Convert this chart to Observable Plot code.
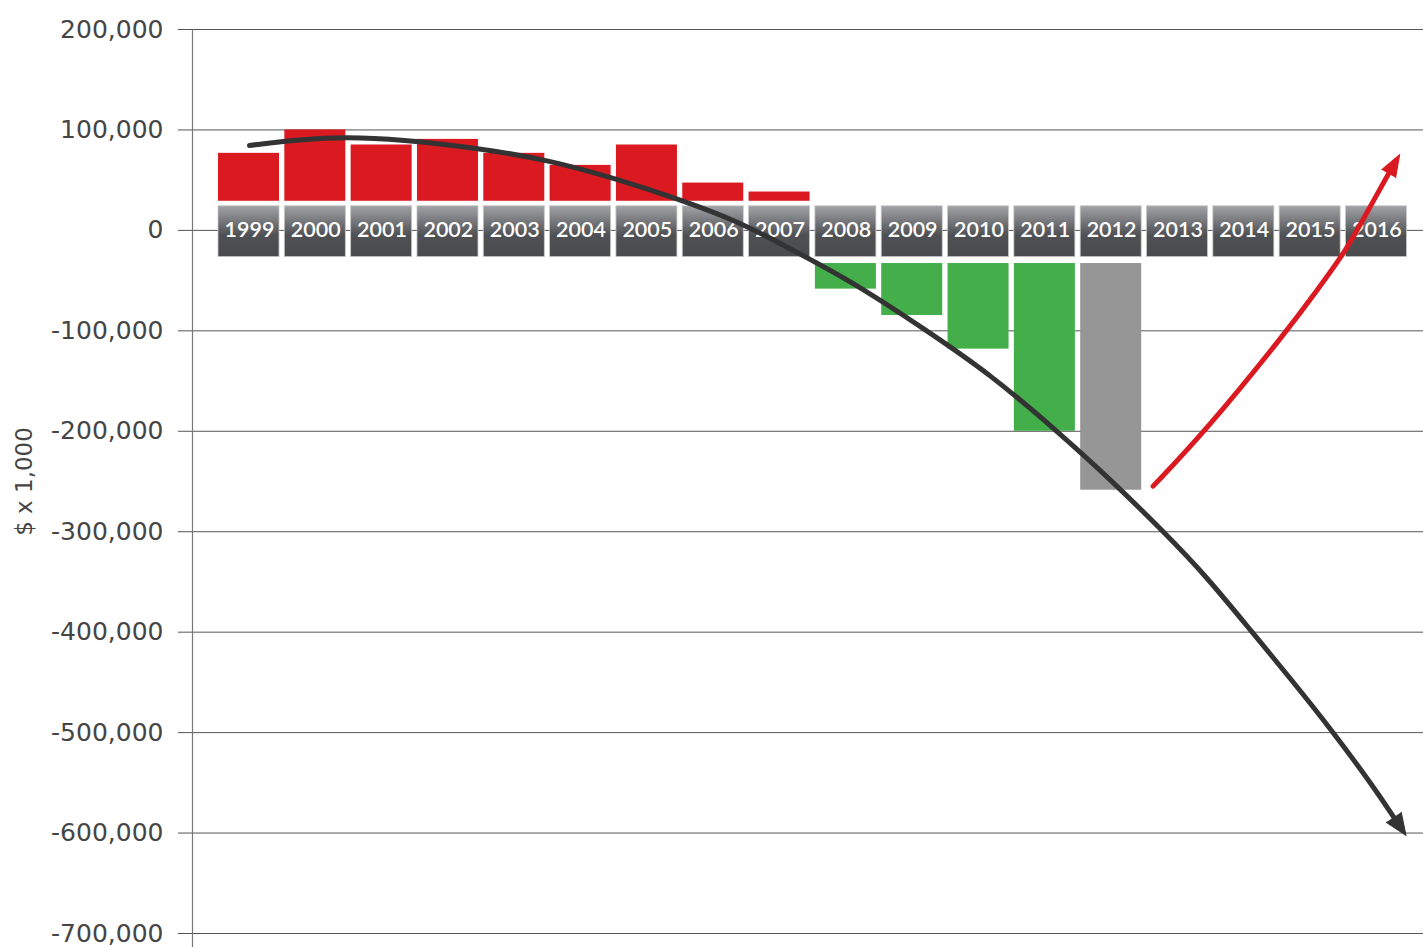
<!DOCTYPE html>
<html><head><meta charset="utf-8">
<script src="https://cdn.jsdelivr.net/npm/d3@7"></script>
<script src="https://cdn.jsdelivr.net/npm/@observablehq/plot@0.6"></script>
<style>body{margin:0;background:#fff}svg{display:block}</style>
</head><body><div id="chart"></div>
<script>
// ---- data ----
const years = [1999,2000,2001,2002,2003,2004,2005,2006,2007,2008,2009,2010,2011,2012,2013,2014,2015,2016];
const values = [76700,100000,85000,90600,76700,64700,85000,47100,38200,-58500,-84700,-118200,-200000,-258700,null,null,null,null];
const kinds = ["surplus","surplus","surplus","surplus","surplus","surplus","surplus","surplus","surplus","deficit","deficit","deficit","deficit","estimate",null,null,null,null];
const yTicks = [200000,100000,0,-100000,-200000,-300000,-400000,-500000,-600000,-700000];
// trend curves (year, $ x 1,000)
const blackX = [1999.007,1999.776,2000.455,2001.284,2002.460,2003.545,2004.525,2005.460,2006.395,2007.013,2008.068,2009.224,2010.179,2011.189,2011.988,2012.791,2013.446,2014.124,2014.702,2015.355,2015.958,2016.260];
const blackY = [84600,90600,92900,90600,81900,69700,51500,31600,8300,-13200,-49800,-100000,-143400,-200000,-247900,-300000,-345200,-400000,-446000,-500000,-554300,-584200];
const redX = [2012.632,2013.420,2014.652,2015.104,2015.505,2015.707,2015.958,2016.184];
const redY = [-254600,-200000,-100000,-59700,-23200,0,29900,56500];

// ---- layout constants ----
const half = 0.46;          // half bar width in years
const posBase = 29000;      // positive bars start above the year label band
const negBase = -33000;     // negative bars start below the year label band
const bandTop = 24000, bandBottom = -26600;
const xDomain = [1998.148, 2016.709];

const bars = years.map((y,i)=>({year:y, value:values[i], kind:kinds[i]})).filter(d=>d.value!=null);
const black = blackX.map((x,i)=>({x, y:blackY[i]}));
const red = redX.map((x,i)=>({x, y:redY[i]}));
const fmt = d => d.toLocaleString("en-US");
const font = "Lato, 'Open Sans', sans-serif";
const axisFont = "'DejaVu Sans', sans-serif";

const svg = Plot.plot({
  width: 1423, height: 947,
  marginLeft: 192, marginRight: 0, marginTop: 29, marginBottom: 14,
  style: {fontFamily: font, background: "#fff", overflow: "visible"},
  x: {type: "linear", domain: xDomain, axis: null},
  y: {domain: [-700000, 200000]},
  color: {domain: ["surplus","deficit","estimate"], range: ["#da1921","#43ae4a","#969696"]},
  marks: [
    Plot.gridY(yTicks, {stroke: "#555", strokeOpacity: 1, strokeWidth: 1}),
    Plot.axisY(yTicks, {tickSize: 14, tickPadding: 15, tickFormat: fmt, stroke: "#555", fill: "#454545", fontSize: 25, fontFamily: axisFont, label: null}),
    Plot.ruleX([xDomain[0]], {stroke: "#777", strokeWidth: 1.2, insetBottom: -14}),
    Plot.text(["$ x 1,000"], {frameAnchor: "left", textAnchor: "middle", dx: -168, rotate: -90, fontSize: 23, fill: "#454545", fontFamily: axisFont}),
    Plot.rect(bars, {x1: d=>d.year-half, x2: d=>d.year+half, y1: d=>d.value>0?posBase:negBase, y2: "value", fill: "kind"}),
    Plot.rect(years, {x1: d=>d-half, x2: d=>d+half, y1: bandBottom, y2: bandTop, fill: "url(#yearGrad)", stroke: "#c8c8c8", strokeWidth: 0.8}),
    Plot.text(years, {x: d=>d, y: 0, dx: 0.4, text: d=>String(d), fill: "#fff", fontSize: 21.5, fontWeight: 600, style: {letterSpacing: "0.8px"}}),
    Plot.line(black, {x: "x", y: "y", stroke: "#333", strokeWidth: 5, curve: "basis"}),
    Plot.vector([black[black.length-1]], {x: "x", y: "y", rotate: 146, length: 22, r: 9, shape: "spike", anchor: "start", fill: "#333", stroke: "#333", strokeWidth: 1}),
    Plot.line(red, {x: "x", y: "y", stroke: "#da1921", strokeWidth: 5, curve: "basis"}),
    Plot.vector([red[red.length-1]], {x: "x", y: "y", rotate: 30, length: 22, r: 8, shape: "spike", anchor: "start", fill: "#da1921", stroke: "#da1921", strokeWidth: 1})
  ]
});
const defs = d3.select(svg).insert("defs", ":first-child");
const g = defs.append("linearGradient").attr("id","yearGrad").attr("x1",0).attr("x2",0).attr("y1",0).attr("y2",1);
g.append("stop").attr("offset","0%").attr("stop-color","#a2a3a6");
g.append("stop").attr("offset","58%").attr("stop-color","#4f5053");
g.append("stop").attr("offset","100%").attr("stop-color","#4a4b4d");
document.getElementById("chart").appendChild(svg);
</script></body></html>
